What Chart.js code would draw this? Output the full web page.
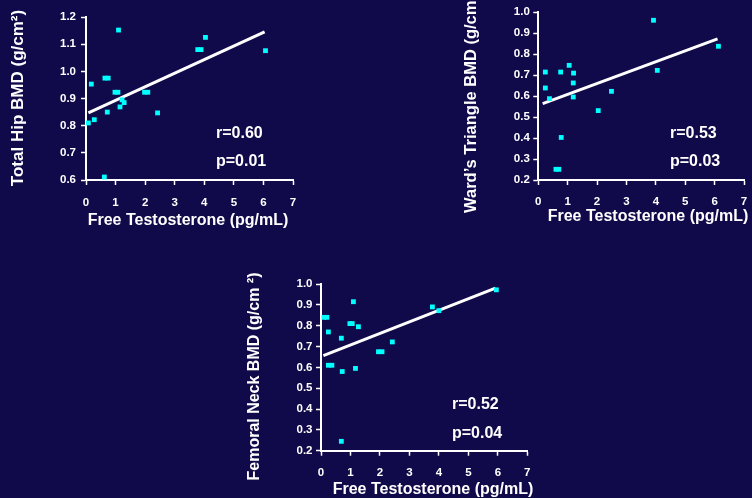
<!DOCTYPE html>
<html><head><meta charset="utf-8">
<script src="https://cdn.jsdelivr.net/npm/chart.js@4"></script>
<style>
html,body{margin:0;padding:0;background:#110a4a;width:752px;height:498px;overflow:hidden;position:relative;}
canvas{position:absolute;}
</style></head><body>
<canvas id="c1" width="320" height="240" style="left:0px;top:0px"></canvas>
<canvas id="c2" width="322" height="240" style="left:450px;top:0px"></canvas>
<canvas id="c3" width="320" height="238" style="left:240px;top:260px"></canvas>
<script>
// ---- data ----
const xAxisTitle = 'Free Testosterone (pg/mL)';

const hipTitle = 'Total Hip BMD (g/cm²)';
const hipX = [0.08, 0.18, 0.28, 0.62, 0.64, 0.75, 0.72, 0.98, 1.08, 1.1, 1.15, 1.22, 1.29, 1.98, 2.09, 2.42, 3.78, 3.89, 4.04, 6.07];
const hipY = [0.81, 0.953, 0.822, 0.611, 0.975, 0.975, 0.85, 0.923, 0.923, 1.152, 0.869, 0.895, 0.885, 0.923, 0.923, 0.847, 1.08, 1.08, 1.125, 1.076];
const hipFitX = [0.08, 6.04];
const hipFitY = [0.847, 1.145];
const hipStats = ['r=0.60', 'p=0.01'];

const wardTitle = 'Ward’s Triangle BMD (g/cm²)';
const wardX = [0.24, 0.24, 0.38, 0.76, 0.78, 0.6, 0.7, 1.05, 1.2, 1.19, 1.19, 2.04, 2.49, 3.92, 4.05, 6.13];
const wardY = [0.715, 0.639, 0.588, 0.715, 0.403, 0.251, 0.251, 0.747, 0.71, 0.663, 0.596, 0.531, 0.623, 0.962, 0.723, 0.838];
const wardFitX = [0.15, 6.1];
const wardFitY = [0.564, 0.873];
const wardStats = ['r=0.53', 'p=0.03'];

const neckTitle = 'Femoral Neck BMD (g/cm ²)';
const neckX = [0.1, 0.2, 0.25, 0.25, 0.37, 0.69, 0.72, 0.69, 0.98, 1.06, 1.1, 1.27, 1.17, 1.95, 2.07, 2.42, 3.78, 4.0, 5.95];
const neckY = [0.84, 0.84, 0.77, 0.61, 0.61, 0.74, 0.58, 0.245, 0.81, 0.81, 0.915, 0.795, 0.595, 0.675, 0.675, 0.722, 0.89, 0.872, 0.972];
const neckFitX = [0.08, 5.92];
const neckFitY = [0.656, 0.98];
const neckStats = ['r=0.52', 'p=0.04'];

// ---- rendering ----
const FONT = '"Liberation Sans", Arial, Helvetica, sans-serif';
const WHITE = '#ffffff';
const CYAN = '#00ffff';

const textPlugin = {
  id: 'freeText',
  afterDraw(chart, args, opts) {
    const ctx = chart.ctx;
    (opts.items || []).forEach(it => {
      ctx.save();
      ctx.fillStyle = WHITE;
      ctx.font = 'bold ' + it.size + 'px ' + FONT;
      ctx.textAlign = it.align || 'center';
      ctx.textBaseline = 'middle';
      ctx.translate(it.x, it.y);
      if (it.rot) ctx.rotate(it.rot);
      ctx.fillText(it.text, 0, 0);
      ctx.restore();
    });
  }
};

function makeChart(id, xs, ys, fx, fy, yMin, yMax, L, items) {
  const pts = xs.map((x, i) => ({x: x, y: ys[i]}));
  const fit = fx.map((x, i) => ({x: x, y: fy[i]}));
  const tickFont = {family: FONT, weight: 'bold', size: 11.5};
  new Chart(document.getElementById(id), {
    type: 'scatter',
    data: {
      datasets: [
        {data: pts, backgroundColor: CYAN, borderWidth: 0, pointStyle: 'rect', pointRadius: 3.4, clip: false, order: 1},
        {data: fit, showLine: true, borderColor: WHITE, borderWidth: 3, pointRadius: 0, clip: false, order: 2}
      ]
    },
    options: {
      responsive: false, animation: false, devicePixelRatio: 1,
      layout: {padding: {top: L.top, right: L.right, bottom: 0, left: 0}},
      plugins: {legend: {display: false}, tooltip: {enabled: false}, freeText: {items: items}},
      scales: {
        x: {
          type: 'linear', min: 0, max: 7,
          ticks: {stepSize: 1, color: WHITE, font: tickFont, padding: L.xPad, maxRotation: 0,
                  callback: v => String(v)},
          grid: {display: true, drawOnChartArea: false, drawTicks: true, tickLength: 5, tickColor: WHITE, tickWidth: 1.5, color: WHITE},
          border: {display: true, color: WHITE, width: 2},
          afterFit: s => { s.height = L.xHeight; }
        },
        y: {
          type: 'linear', min: yMin, max: yMax,
          ticks: {stepSize: 0.1, color: WHITE, font: tickFont, padding: L.yPad,
                  callback: v => Number(v).toFixed(1)},
          grid: {display: true, drawOnChartArea: false, drawTicks: true, tickLength: 5, tickColor: WHITE, tickWidth: 1.5, color: WHITE},
          border: {display: true, color: WHITE, width: 2},
          afterFit: s => { s.width = L.yWidth; }
        }
      }
    },
    plugins: [textPlugin]
  });
}

makeChart('c1', hipX, hipY, hipFitX, hipFitY, 0.6, 1.2,
  {top: 17, right: 27, xHeight: 60, yWidth: 86, xPad: 11, yPad: 5},
  [
    {text: xAxisTitle, x: 188, y: 221, size: 16},
    {text: hipTitle, x: 18, y: 98, size: 17, rot: -Math.PI / 2},
    {text: hipStats[0], x: 216, y: 134, size: 16, align: 'left'},
    {text: hipStats[1], x: 216, y: 162, size: 16, align: 'left'}
  ]);

makeChart('c2', wardX, wardY, wardFitX, wardFitY, 0.2, 1.0,
  {top: 12.3, right: 28, xHeight: 60, yWidth: 88.3, xPad: 10, yPad: 3.5},
  [
    {text: xAxisTitle, x: 198, y: 217, size: 16},
    {text: wardTitle, x: 21.7, y: 213, size: 16.5, rot: -Math.PI / 2, align: 'left'},
    {text: wardStats[0], x: 220, y: 134, size: 16, align: 'left'},
    {text: wardStats[1], x: 220, y: 162, size: 16, align: 'left'}
  ]);

makeChart('c3', neckX, neckY, neckFitX, neckFitY, 0.2, 1.0,
  {top: 24, right: 32.7, xHeight: 47.3, yWidth: 81, xPad: 10, yPad: 3.5},
  [
    {text: xAxisTitle, x: 193, y: 229.5, size: 16},
    {text: neckTitle, x: 15, y: 116.5, size: 16, rot: -Math.PI / 2},
    {text: neckStats[0], x: 212, y: 144.5, size: 16, align: 'left'},
    {text: neckStats[1], x: 212, y: 173.5, size: 16, align: 'left'}
  ]);
</script>
</body></html>
